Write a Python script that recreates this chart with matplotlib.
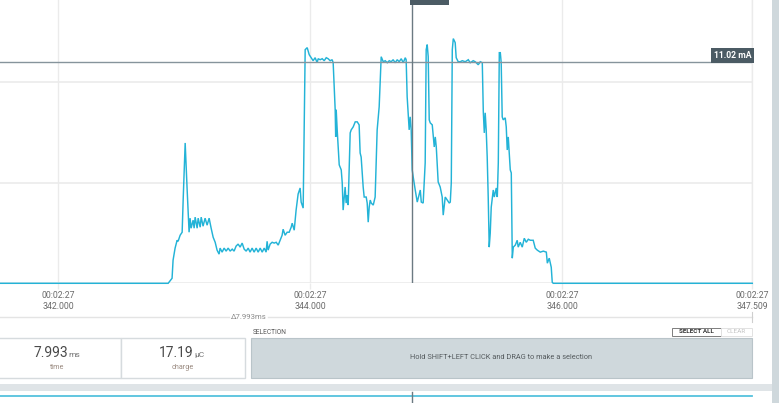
import matplotlib
matplotlib.use("Agg")
import matplotlib.pyplot as plt
from matplotlib.patches import Rectangle
import matplotlib.transforms as mtransforms

plt.rcParams['font.family'] = ['Roboto', 'DejaVu Sans']

# ---------------- data ----------------
time_ms = [
    341.541, 342.875, 342.906, 342.914, 342.930, 342.946, 342.954, 342.970, 342.986, 342.994,
    343.010, 343.025, 343.041, 343.049, 343.057, 343.073, 343.081, 343.089, 343.105, 343.113,
    343.129, 343.137, 343.152, 343.168, 343.184, 343.200, 343.216, 343.232, 343.248, 343.263,
    343.279, 343.287, 343.303, 343.319, 343.335, 343.351, 343.367, 343.383, 343.398, 343.414,
    343.430, 343.446, 343.462, 343.478, 343.494, 343.510, 343.525, 343.541, 343.557, 343.573,
    343.589, 343.605, 343.621, 343.637, 343.652, 343.660, 343.668, 343.684, 343.700, 343.716,
    343.732, 343.748, 343.763, 343.779, 343.787, 343.803, 343.819, 343.835, 343.851, 343.859,
    343.875, 343.890, 343.906, 343.922, 343.930, 343.946, 343.962, 343.978, 343.994, 344.010,
    344.025, 344.041, 344.057, 344.065, 344.081, 344.097, 344.113, 344.129, 344.144, 344.160,
    344.176, 344.184, 344.200, 344.204, 344.208, 344.216, 344.232, 344.248, 344.256, 344.263,
    344.279, 344.287, 344.295, 344.303, 344.319, 344.327, 344.343, 344.359, 344.375, 344.390,
    344.398, 344.406, 344.422, 344.430, 344.446, 344.454, 344.462, 344.470, 344.478, 344.486,
    344.502, 344.517, 344.533, 344.549, 344.565, 344.581, 344.597, 344.613, 344.629, 344.644,
    344.660, 344.676, 344.692, 344.708, 344.724, 344.740, 344.756, 344.763, 344.771, 344.787,
    344.795, 344.803, 344.811, 344.819, 344.835, 344.851, 344.859, 344.875, 344.883, 344.898,
    344.914, 344.922, 344.930, 344.938, 344.946, 344.954, 344.970, 344.986, 344.994, 345.002,
    345.017, 345.033, 345.049, 345.057, 345.073, 345.089, 345.105, 345.113, 345.121, 345.129,
    345.137, 345.152, 345.160, 345.176, 345.192, 345.208, 345.232, 345.256, 345.271, 345.295,
    345.311, 345.335, 345.351, 345.367, 345.375, 345.383, 345.390, 345.398, 345.406, 345.414,
    345.422, 345.430, 345.438, 345.454, 345.462, 345.478, 345.486, 345.494, 345.502, 345.510,
    345.517, 345.525, 345.533, 345.549, 345.557, 345.565, 345.573, 345.581, 345.589, 345.597,
    345.605, 345.613, 345.629, 345.644, 345.652, 345.668, 345.684, 345.700, 345.716, 345.732,
    345.748, 345.771, 345.787, 345.803, 345.827, 345.851, 345.875, 345.883, 345.898, 345.914,
    345.922, 345.930, 347.509,
]

current_mA = [
    0.00, 0.00, 0.25, 1.15, 1.75, 2.14, 2.09, 2.39, 2.54, 4.14,
    6.98, 4.74, 2.54, 3.24, 2.74, 3.14, 2.74, 3.29, 2.74, 3.24,
    2.79, 3.29, 2.84, 3.24, 2.89, 3.24, 2.74, 2.29, 2.04, 1.65,
    1.45, 1.75, 1.55, 1.75, 1.60, 1.75, 1.60, 1.70, 1.60, 1.85,
    1.95, 1.80, 2.00, 1.70, 1.60, 1.75, 1.55, 1.75, 1.55, 1.75,
    1.55, 1.75, 1.55, 1.75, 1.55, 2.09, 1.65, 1.95, 2.04, 2.00,
    2.04, 1.90, 2.14, 2.39, 2.69, 2.39, 2.54, 2.54, 2.79, 2.99,
    2.64, 3.64, 4.44, 4.74, 4.04, 3.74, 11.62, 11.72, 11.37, 11.22,
    11.07, 11.22, 10.97, 11.17, 11.12, 11.17, 11.07, 11.22, 11.17, 11.07,
    11.12, 10.97, 8.63, 7.28, 8.63, 7.63, 5.89, 5.64, 4.99, 3.64,
    4.79, 3.99, 4.39, 3.89, 7.48, 7.63, 7.78, 8.03, 8.03, 7.88,
    6.48, 6.28, 4.79, 4.29, 4.29, 3.99, 3.04, 3.79, 4.14, 3.99,
    3.89, 4.29, 7.63, 8.78, 11.27, 11.02, 11.07, 10.97, 11.07, 11.02,
    11.12, 10.97, 11.12, 11.02, 11.17, 10.97, 11.22, 11.12, 9.28, 7.63,
    8.28, 7.63, 5.64, 5.29, 4.64, 4.04, 4.24, 4.64, 4.04, 3.99,
    5.99, 11.62, 11.87, 11.27, 8.13, 7.98, 7.88, 6.78, 7.28, 6.78,
    5.04, 4.79, 4.29, 3.39, 4.29, 4.14, 3.99, 4.04, 4.99, 11.62,
    12.17, 11.97, 11.22, 11.02, 11.02, 11.07, 11.02, 11.12, 10.97, 11.07,
    11.02, 10.87, 11.02, 10.97, 8.53, 7.48, 8.48, 7.63, 6.28, 4.29,
    1.80, 2.49, 3.79, 4.64, 4.29, 4.74, 4.29, 5.99, 11.47, 11.47,
    10.97, 8.28, 8.13, 8.23, 7.78, 6.63, 7.28, 6.48, 5.64, 5.49,
    1.25, 1.80, 1.90, 2.14, 1.80, 2.04, 1.80, 2.24, 2.04, 2.19,
    2.14, 2.14, 1.75, 1.65, 1.55, 1.60, 1.55, 1.00, 1.25, 0.80,
    0.05, 0.00, 0.00,
]
assert len(time_ms) == len(current_mA)

tick_times = [342.000, 344.000, 346.000, 347.509]
tick_labels = ["00:02:27\n342.000", "00:02:27\n344.000", "00:02:27\n346.000", "00:02:27\n347.509"]
y_grid = [0, 5, 10]
x_range = (341.541, 347.509)
y_range = (0, 14.09)

cursor_time = 344.811
cursor_current = 11.02
cursor_time_label = "344.811"
cursor_current_label = "11.02 mA"
window_label = "\u03947.993ms"
time_value, time_unit = "7.993", "ms"
charge_value, charge_unit = "17.19", "\u03bcC"

TRACE = "#23b3d7"
GRID = "#ebebeb"
DARK = "#4b5b64"

# ---------------- figure ----------------
W, H = 779, 403
fig = plt.figure(figsize=(W / 100, H / 100), dpi=100)
fig.patch.set_facecolor("white")

ax = fig.add_axes([0, 1 - 283.3 / H, 752.3 / W, 283.3 / H])
ax.set_xlim(*x_range)
ax.set_ylim(*y_range)
for s in ["left", "top", "bottom"]:
    ax.spines[s].set_visible(False)
ax.spines["right"].set_color(GRID)
ax.spines["right"].set_linewidth(1)

for g in y_grid:
    ax.axhline(g, color=GRID, lw=1.2, zorder=1)
ax.set_yticks([])
ax.set_xticks(tick_times)
ax.set_xticklabels(tick_labels, fontsize=6.3, color="#6b6b6b", linespacing=1.35)
ax.tick_params(axis="x", length=4, width=1, color=GRID, pad=1.5)
ax.xaxis.grid(True, color=GRID, lw=1)
ax.set_axisbelow(True)

ax.plot(time_ms, current_mA, color=TRACE, lw=1.05, zorder=3, clip_on=False, solid_joinstyle="miter")

# cursors
ax.axhline(cursor_current, color="#86949c", lw=1, zorder=4)
ax.axvline(cursor_time, color="#6b7a82", lw=1, zorder=4)
blend_y = mtransforms.blended_transform_factory(ax.transAxes, ax.transData)
ax.text(0.9985, cursor_current + 0.08, cursor_current_label, transform=blend_y,
        ha="right", va="bottom", fontsize=6.2, color="white", fontweight="bold", zorder=6,
        bbox=dict(boxstyle="square,pad=0.35", fc=DARK, ec="none"))
blend_x = mtransforms.blended_transform_factory(ax.transData, ax.transAxes)
ax.text(cursor_time + 0.004, 0.993, cursor_time_label, transform=blend_x,
        ha="left", va="bottom", fontsize=6.5, color="white", fontweight="bold", zorder=6,
        clip_on=False, bbox=dict(boxstyle="square,pad=0.35", fc=DARK, ec="none"))

# ---------------- UI overlay (pixel space) ----------------
ov = fig.add_axes([0, 0, 1, 1], zorder=10)
ov.set_xlim(0, W)
ov.set_ylim(H, 0)
ov.axis("off")
ov.patch.set_alpha(0)

# delta line
ov.plot([0, 229], [317, 317], color="#e4e4e4", lw=1)
ov.plot([268, 752], [317, 317], color="#e4e4e4", lw=1)
ov.plot([752, 752], [312, 322], color="#cfcfcf", lw=0.8)
ov.text(248.5, 317, window_label, ha="center", va="center", fontsize=5.6, color="#8a8a8a")

# selection header
ov.text(253, 332, "SELECTION", ha="left", va="center", fontsize=4.8, color="#555555")
ov.add_patch(Rectangle((672, 327.5), 49, 8.5, fc="white", ec="#7d7d7d", lw=0.7))
ov.text(696.5, 331.8, "SELECT ALL", ha="center", va="center", fontsize=4.6, color="#333333", fontweight="bold")
ov.add_patch(Rectangle((721, 327.5), 31, 8.5, fc="white", ec="#e2e2e2", lw=0.7))
ov.text(736.5, 331.8, "CLEAR", ha="center", va="center", fontsize=4.6, color="#c4c4c4")

# stat boxes
ov.add_patch(Rectangle((-2, 338), 123, 40, fc="white", ec="#d6dbde", lw=1))
ov.add_patch(Rectangle((121, 338), 124, 40, fc="white", ec="#d6dbde", lw=1))
ov.text(68, 357, time_value, ha="right", va="baseline", fontsize=10, color="#4a4a4a")
ov.text(68.5, 357, time_unit, ha="left", va="baseline", fontsize=6, color="#707070")
ov.text(194, 357, charge_value, ha="right", va="baseline", fontsize=10, color="#4a4a4a")
ov.text(194.5, 357, charge_unit, ha="left", va="baseline", fontsize=6, color="#707070")
ov.text(57.5, 367.5, "time", ha="center", va="center", fontsize=5.2, color="#9a8a80")
ov.text(183, 367.5, "charge", ha="center", va="center", fontsize=5.2, color="#9a8a80")

# selection area
ov.add_patch(Rectangle((251, 338), 501, 40, fc="#cfd8dc", ec="#b9c4c9", lw=0.8))
ov.text(501.5, 357.5, "Hold SHIFT+LEFT CLICK and DRAG to make a selection",
        ha="center", va="center", fontsize=5.3, color="#555b5e")

# separator band + next chart top
ov.add_patch(Rectangle((0, 384), W, 7, fc="#dfe4e7", ec="none"))
ov.plot([0, 752], [395.5, 395.5], color="#55c2dd", lw=1.3)
ov.plot([412, 412], [392, 403], color="#6b7a82", lw=1)

# right scrollbar
ov.add_patch(Rectangle((772, 0), 7, H, fc="#cfd8dc", ec="none"))

fig.savefig("out.png", dpi=100, facecolor="white")
